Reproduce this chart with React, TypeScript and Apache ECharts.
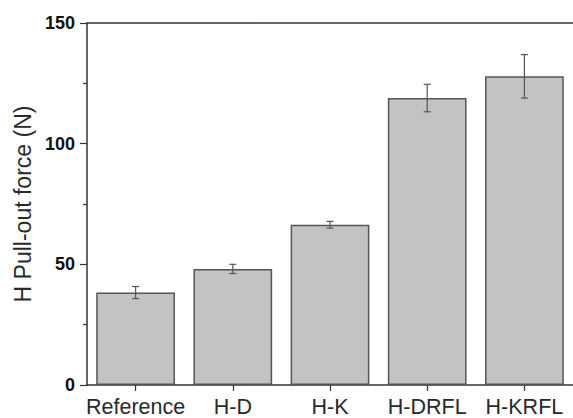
import React, { useEffect, useRef } from "react";
import * as echarts from "echarts";

const categories = ["Reference", "H-D", "H-K", "H-DRFL", "H-KRFL"];
const means = [38.3, 48.1, 66.4, 118.9, 127.9];
const errors = [2.5, 1.9, 1.4, 5.7, 9.0];
const yTicks = { min: 0, max: 150, interval: 50 };

const FONT = "'Liberation Sans', Arial, sans-serif";

export default function App() {
  const ref = useRef<HTMLDivElement>(null);
  useEffect(() => {
    if (!ref.current) return;
    const chart = echarts.init(ref.current, undefined, { renderer: "svg" });
    const errData = means.map((m, i) => [i, m + errors[i], m - errors[i]]);
    chart.setOption({
      animation: false,
      backgroundColor: "#ffffff",
      grid: { left: 87, top: 23, width: 486, height: 363 },
      xAxis: [
        {
          type: "category",
          data: categories,
          position: "bottom",
          axisLine: { show: true, lineStyle: { color: "#333", width: 1.5 } },
          axisTick: { show: true, alignWithLabel: true, length: 6, lineStyle: { color: "#333", width: 1.2 } },
          axisLabel: { fontFamily: FONT, fontSize: 21.5, color: "#2a2a2a", margin: 11, interval: 0 },
        },
        {
          type: "category",
          data: categories,
          position: "top",
          axisLine: { show: true, lineStyle: { color: "#333", width: 1.5 } },
          axisTick: { show: false },
          axisLabel: { show: false },
        },
      ],
      yAxis: {
        type: "value",
        min: yTicks.min,
        max: yTicks.max,
        interval: yTicks.interval,
        name: "H Pull-out force (N)",
        nameLocation: "middle",
        nameGap: 50,
        nameTextStyle: { fontFamily: FONT, fontSize: 23, color: "#2a2a2a" },
        axisLine: { show: true, lineStyle: { color: "#333", width: 1.5 } },
        axisTick: { show: true, length: 7, lineStyle: { color: "#333", width: 1.2 } },
        minorTick: { show: true, splitNumber: 2, length: 4, lineStyle: { color: "#333", width: 1.2 } },
        splitLine: { show: false },
        axisLabel: { fontFamily: FONT, fontSize: 18, fontWeight: "bold", color: "#111", margin: 12 },
      },
      series: [
        {
          type: "bar",
          data: means,
          barWidth: "81%",
          itemStyle: { color: "#c3c3c3", borderColor: "#555", borderWidth: 1.5 },
        },
        {
          type: "custom",
          data: errData,
          z: 10,
          renderItem: (params: any, api: any) => {
            const x = api.value(0);
            const hi = api.coord([x, api.value(1)]);
            const lo = api.coord([x, api.value(2)]);
            const w = 3.5;
            const style = { stroke: "#555", lineWidth: 1.2 };
            return {
              type: "group",
              children: [
                { type: "line", shape: { x1: hi[0], y1: hi[1], x2: lo[0], y2: lo[1] }, style },
                { type: "line", shape: { x1: hi[0] - w, y1: hi[1], x2: hi[0] + w, y2: hi[1] }, style },
                { type: "line", shape: { x1: lo[0] - w, y1: lo[1], x2: lo[0] + w, y2: lo[1] }, style },
              ],
            };
          },
        },
      ],
    });
    return () => chart.dispose();
  }, []);
  return (
    <div
      ref={ref}
      style={{ position: "absolute", left: 0, top: 0, width: 573, height: 418, background: "#fff" }}
    />
  );
}
